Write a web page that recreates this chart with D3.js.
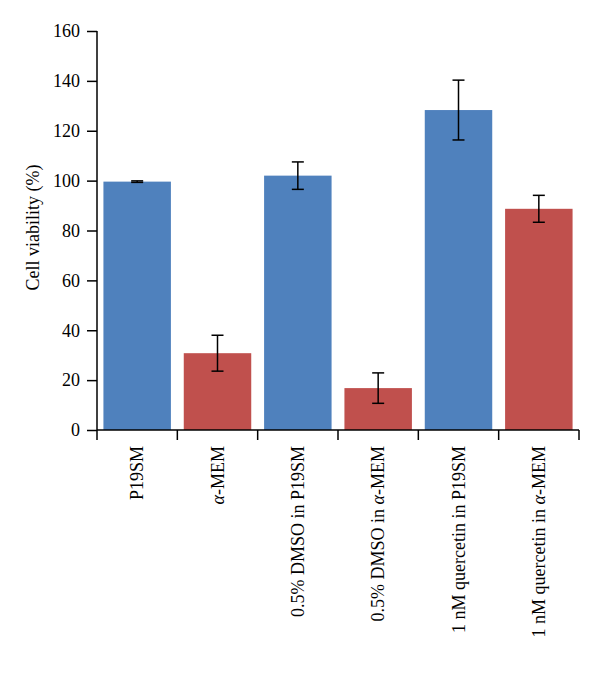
<!DOCTYPE html>
<html><head><meta charset="utf-8">
<script src="https://cdn.jsdelivr.net/npm/d3@7"></script>
<style>body{margin:0;background:#fff}</style>
</head><body>
<svg id="chart" width="600" height="680"></svg>
<script>
const categories = ["P19SM", "α-MEM", "0.5% DMSO in P19SM", "0.5% DMSO in α-MEM", "1 nM quercetin in P19SM", "1 nM quercetin in α-MEM"];
const values = [99.6, 30.8, 102.0, 16.8, 128.3, 88.7];
const errors = [0.3, 7.2, 5.5, 6.1, 12.0, 5.4];
const barColors = ["#4f81bd", "#c0504d", "#4f81bd", "#c0504d", "#4f81bd", "#c0504d"];
const yTicks = [0, 20, 40, 60, 80, 100, 120, 140, 160];

const svg = d3.select("#chart");
const m = {left: 97, right: 21, top: 31, bottom: 250};
const W = 600, H = 680;
const x = d3.scaleBand().domain(categories).range([m.left, W - m.right]).paddingInner(0.16).paddingOuter(0.08);
const y = d3.scaleLinear().domain([0, 160]).range([H - m.bottom, m.top]);
const font = "'Liberation Serif', 'Times New Roman', serif";
const fs = 18;

// bars
svg.selectAll("rect.bar").data(categories).join("rect")
  .attr("x", d => x(d)).attr("width", x.bandwidth())
  .attr("y", (d, i) => y(values[i])).attr("height", (d, i) => y(0) - y(values[i]))
  .attr("fill", (d, i) => barColors[i]);

// error bars
const eg = svg.append("g").attr("stroke", "#000").attr("stroke-width", 1.5);
categories.forEach((c, i) => {
  const cx = x(c) + x.bandwidth() / 2;
  const hi = y(values[i] + errors[i]), lo = y(values[i] - errors[i]);
  eg.append("line").attr("x1", cx).attr("x2", cx).attr("y1", hi).attr("y2", lo);
  eg.append("line").attr("x1", cx - 6).attr("x2", cx + 6).attr("y1", hi).attr("y2", hi);
  eg.append("line").attr("x1", cx - 6).attr("x2", cx + 6).attr("y1", lo).attr("y2", lo);
});

// y axis
const yAxis = svg.append("g").attr("transform", `translate(${m.left},0)`)
  .call(d3.axisLeft(y).tickValues(yTicks).tickSize(10).tickPadding(7));
yAxis.select(".domain").attr("stroke", "#000").attr("stroke-width", 1.5).attr("d", `M0,${y(0)}V${y(160)}`);
yAxis.selectAll(".tick line").attr("stroke", "#000").attr("stroke-width", 1.5);
yAxis.selectAll("text").attr("font-family", font).attr("font-size", fs).attr("fill", "#000");

// x axis (ticks at category boundaries)
const xg = svg.append("g");
xg.append("line").attr("x1", m.left).attr("x2", W - m.right).attr("y1", y(0)).attr("y2", y(0))
  .attr("stroke", "#000").attr("stroke-width", 1.5);
const step = x.step();
const bounds = categories.map(c => x(c) - (step - x.bandwidth()) / 2).concat([W - m.right]);
bounds[0] = m.left;
xg.selectAll("line.t").data(bounds).join("line")
  .attr("x1", d => d).attr("x2", d => d).attr("y1", y(0)).attr("y2", y(0) + 10)
  .attr("stroke", "#000").attr("stroke-width", 1.5);

// category labels
categories.forEach((c, i) => {
  const cx = x(c) + x.bandwidth() / 2;
  const t = svg.append("text")
    .attr("transform", `translate(${cx + 6},${y(0) + 16}) rotate(-90)`)
    .attr("text-anchor", "end").attr("font-family", font).attr("font-size", fs).attr("fill", "#000");
  const parts = c.split("α");
  parts.forEach((p, k) => {
    if (k > 0) t.append("tspan").attr("font-style", "italic").text("α");
    if (p) t.append("tspan").text(p);
  });
});

// y label
svg.append("text").attr("transform", `translate(39,${(y(0) + y(160)) / 2 - 3}) rotate(-90)`)
  .attr("text-anchor", "middle").attr("font-family", font).attr("font-size", fs).attr("fill", "#000")
  .text("Cell viability (%)");
</script>
</body></html>
